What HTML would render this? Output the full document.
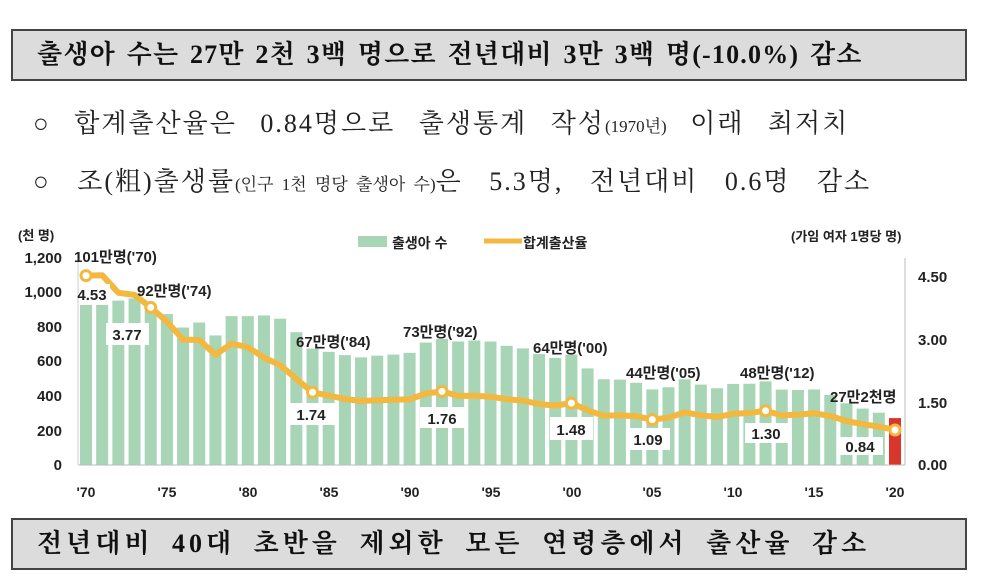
<!DOCTYPE html>
<html><head><meta charset="utf-8"><style>
body{margin:0;width:984px;height:582px;background:#fff;position:relative;overflow:hidden;font-family:"Liberation Serif","Noto Serif CJK SC",serif}
.box{position:absolute;left:11px;width:956px;height:52px;background:#dcdcdc;border:2px solid #444;box-sizing:border-box;font-weight:bold;font-size:26px;line-height:48px;padding-left:24px;color:#111;white-space:nowrap}
.ln{position:absolute;left:33px;font-size:26px;color:#222;white-space:nowrap;letter-spacing:2px;word-spacing:15px}
.sm{font-size:17px;letter-spacing:0;word-spacing:4px}
svg text{font-family:"Liberation Sans","Noto Sans CJK KR",sans-serif;font-weight:bold;fill:#222}
</style></head><body>
<div class="box" style="top:29px;letter-spacing:1.2px;word-spacing:3px">출생아 수는 27만 2천 3백 명으로 전년대비 3만 3백 명(-10.0%) 감소</div>
<div class="ln" style="top:103px">○ 합계출산율은 0.84명으로 출생통계 작성<span class="sm">(1970년)</span> 이래 최저치</div>
<div class="ln" style="top:161px;word-spacing:18px">○ 조(粗)출생률<span class="sm">(인구 1천 명당 출생아 수)</span>은 5.3명, 전년대비 0.6명 감소</div>
<div class="box" style="top:518px;letter-spacing:4px;word-spacing:8px">전년대비 40대 초반을 제외한 모든 연령층에서 출산율 감소</div>
<svg width="984" height="582" style="position:absolute;left:0;top:0">
<g id="bars"></g>
<line x1="78" y1="465" x2="905" y2="465" stroke="#bbb"/>
<line x1="78" y1="258" x2="78" y2="465" stroke="#ccc"/>
<line x1="905" y1="258" x2="905" y2="465" stroke="#bbb"/>
<g id="line"></g>
<g font-size="15" text-anchor="end">
<text x="62" y="470">0</text><text x="62" y="436">200</text><text x="62" y="401">400</text><text x="62" y="366">600</text><text x="62" y="332">800</text><text x="62" y="297">1,000</text><text x="62" y="263">1,200</text>
</g>
<g font-size="15">
<text x="918" y="470">0.00</text><text x="918" y="408">1.50</text><text x="918" y="345">3.00</text><text x="918" y="282">4.50</text>
</g>
<g font-size="14" text-anchor="middle">
<text x="86" y="497">'70</text><text x="167" y="497">'75</text><text x="248" y="497">'80</text><text x="329" y="497">'85</text><text x="410" y="497">'90</text><text x="491" y="497">'95</text><text x="572" y="497">'00</text><text x="652" y="497">'05</text><text x="733" y="497">'10</text><text x="814" y="497">'15</text><text x="895" y="497">'20</text>
</g>
<text x="18" y="240" font-size="13">(천 명)</text>
<text x="791" y="241" font-size="13">(가임 여자 1명당 명)</text>
<rect x="358" y="236" width="29" height="11" fill="#a8d5b5"/>
<text x="392" y="248" font-size="14">출생아 수</text>
<line x1="484" y1="241" x2="522" y2="241" stroke="#f2b840" stroke-width="5"/>
<text x="523" y="248" font-size="14">합계출산율</text>
<g fill="#fff">
<rect x="80" y="284" width="30" height="21"/><rect x="106" y="323" width="43" height="22"/><rect x="287" y="403" width="48" height="22"/><rect x="420" y="407" width="45" height="21"/><rect x="550" y="417" width="43" height="23"/><rect x="627" y="428" width="43" height="22"/><rect x="745" y="423" width="43" height="20"/><rect x="837" y="437" width="46" height="18"/>
</g>
<g font-size="15" text-anchor="middle">
<text x="92" y="300">4.53</text><text x="127" y="340">3.77</text><text x="311" y="420">1.74</text><text x="442" y="424">1.76</text><text x="571" y="435">1.48</text><text x="648" y="445">1.09</text><text x="766" y="439">1.30</text><text x="860" y="452">0.84</text>
</g>
<g font-size="15">
<text x="74" y="262">101만명('70)</text><text x="137" y="296">92만명('74)</text><text x="296" y="347">67만명('84)</text><text x="403" y="337">73만명('92)</text><text x="533" y="353">64만명('00)</text><text x="626" y="378">44만명('05)</text><text x="740" y="378">48만명('12)</text><text x="830" y="402">27만2천명</text>
</g>
</svg>
<script>
var b=[1007,1025,953,966,924,875,797,826,751,863,863,867,848,770,675,656,637,624,634,640,650,710,731,716,722,716,691,676,643,621,640,560,497,495,477,438,451,497,466,445,470,471,485,437,435,438,406,358,327,303,272];
var t=[4.53,4.54,4.12,4.07,3.77,3.43,3.0,2.99,2.64,2.9,2.82,2.57,2.39,2.06,1.74,1.66,1.58,1.53,1.55,1.56,1.57,1.71,1.76,1.654,1.656,1.634,1.574,1.54,1.46,1.42,1.48,1.309,1.178,1.191,1.164,1.085,1.132,1.259,1.192,1.149,1.226,1.244,1.297,1.187,1.205,1.239,1.172,1.052,0.977,0.918,0.837];
var S=16.18,ns="http://www.w3.org/2000/svg",g=document.getElementById("bars"),l=document.getElementById("line"),pts=[];
for(var i=0;i<b.length;i++){var x=86+i*S,h=b[i]*0.1725;var r=document.createElementNS(ns,"rect");r.setAttribute("x",x-6);r.setAttribute("width",12);r.setAttribute("y",465-h);r.setAttribute("height",h);r.setAttribute("fill",i==50?"#d9362b":"#a8d5b5");g.appendChild(r);pts.push(x.toFixed(1)+","+(465-t[i]*41.8).toFixed(1));}
var p=document.createElementNS(ns,"polyline");p.setAttribute("points",pts.join(" "));p.setAttribute("fill","none");p.setAttribute("stroke","#f2b840");p.setAttribute("stroke-width","6");p.setAttribute("stroke-linejoin","round");l.appendChild(p);
[0,4,14,22,30,35,42,50].forEach(function(i){var c=document.createElementNS(ns,"circle");c.setAttribute("cx",86+i*S);c.setAttribute("cy",465-t[i]*41.8);c.setAttribute("r",5);c.setAttribute("fill","#fff");c.setAttribute("stroke","#f2b840");c.setAttribute("stroke-width","3");l.appendChild(c);});
</script>
</body></html>
